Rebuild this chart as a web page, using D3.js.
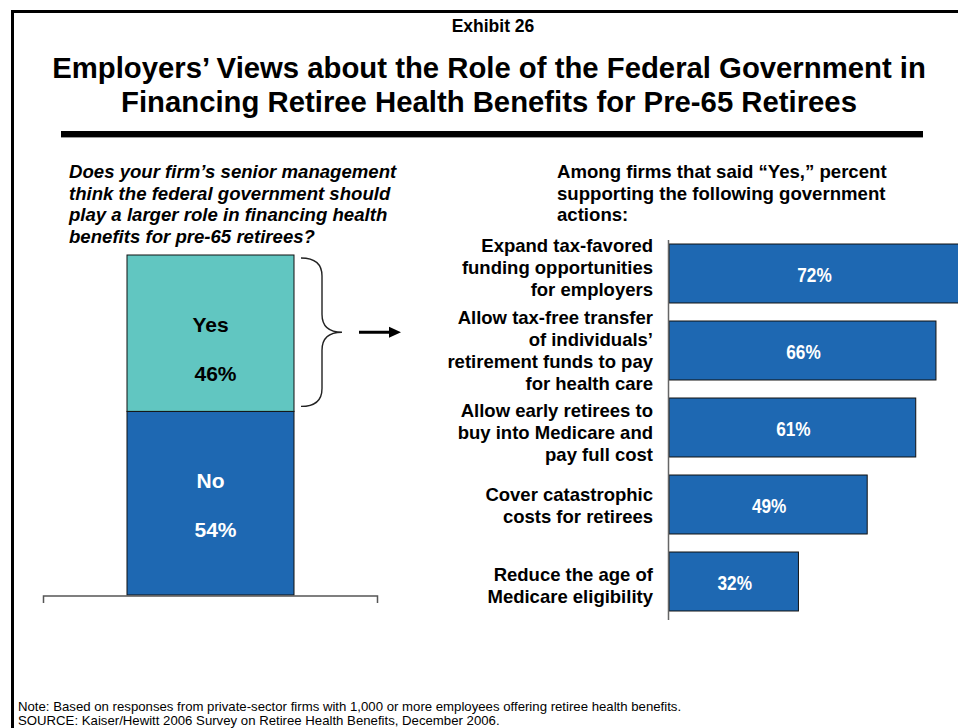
<!DOCTYPE html>
<html>
<head>
<meta charset="utf-8">
<script src="https://cdn.jsdelivr.net/npm/d3@7"></script>
<style>
  html, body { margin: 0; padding: 0; background: #fff; }
  svg { display: block; }
  text { font-family: "Liberation Sans", Arial, Helvetica, sans-serif; }
</style>
</head>
<body>
<svg id="chart" width="958" height="728"></svg>
<script>
// ---- Data ----
const stackCategories = ["No", "Yes"];
const stackValues = [54, 46];

const actionLabels = [
  ["Expand tax-favored", "funding opportunities", "for employers"],
  ["Allow tax-free transfer", "of individuals’", "retirement funds to pay", "for health care"],
  ["Allow early retirees to", "buy into Medicare and", "pay full cost"],
  ["Cover catastrophic", "costs for retirees"],
  ["Reduce the age of", "Medicare eligibility"]
];
const actionValues = [72, 66, 61, 49, 32];

const titleLines = [
  "Employers’ Views about the Role of the Federal Government in",
  "Financing Retiree Health Benefits for Pre-65 Retirees"
];
const questionLines = [
  "Does your firm’s senior management",
  "think the federal government should",
  "play a larger role in financing health",
  "benefits for pre-65 retirees?"
];
const headingLines = [
  "Among firms that said “Yes,” percent",
  "supporting the following government",
  "actions:"
];
const footerLines = [
  "Note: Based on responses from private-sector firms with 1,000 or more employees offering retiree health benefits.",
  "SOURCE: Kaiser/Hewitt 2006 Survey on Retiree Health Benefits, December 2006."
];

// ---- Styling ----
const BLUE = "#1E68B2";
const TEAL = "#61C6C1";
const svg = d3.select("#chart");

// Frame lines (top and left)
svg.append("rect").attr("x", 11).attr("y", 10).attr("width", 947).attr("height", 3).attr("fill", "#000");
svg.append("rect").attr("x", 11).attr("y", 10).attr("width", 3).attr("height", 718).attr("fill", "#000");

// Exhibit label
svg.append("text").attr("x", 493).attr("y", 32).attr("text-anchor", "middle")
  .attr("font-size", 17.5).attr("font-weight", "bold").text("Exhibit 26");

// Title
svg.append("g").selectAll("text").data(titleLines).join("text")
  .attr("x", 489).attr("y", (d, i) => 78 + i * 33.5)
  .attr("text-anchor", "middle").attr("font-size", 29.3).attr("font-weight", "bold")
  .text(d => d);

// Heavy rule under title
svg.append("rect").attr("x", 61).attr("y", 137).attr("width", 862).attr("height", 1).attr("fill", "#999");
svg.append("rect").attr("x", 61).attr("y", 131).attr("width", 862).attr("height", 6).attr("fill", "#000");

// Left question
svg.append("g").selectAll("text").data(questionLines).join("text")
  .attr("x", 69).attr("y", (d, i) => 178 + i * 21.7)
  .attr("font-size", 18.6).attr("font-weight", "bold").attr("font-style", "italic")
  .text(d => d);

// Right heading
svg.append("g").selectAll("text").data(headingLines).join("text")
  .attr("x", 557).attr("y", (d, i) => 178 + i * 21.7)
  .attr("font-size", 18.6).attr("font-weight", "bold")
  .text(d => d);

// ---- Stacked Yes / No column ----
const stackY = d3.scaleLinear().domain([0, 100]).range([595, 255]);
const colX0 = 127, colX1 = 294;
let acc = 0;
const stackRows = stackCategories.map((c, i) => {
  const row = { cat: c, value: stackValues[i], y0: acc, y1: acc + stackValues[i] };
  acc += stackValues[i];
  return row;
});
const colG = svg.append("g");
colG.selectAll("rect").data(stackRows).join("rect")
  .attr("x", colX0).attr("width", colX1 - colX0)
  .attr("y", d => stackY(d.y1)).attr("height", d => stackY(d.y0) - stackY(d.y1))
  .attr("fill", d => d.cat === "Yes" ? TEAL : BLUE)
  .attr("stroke", "#111").attr("stroke-width", 1);
colG.selectAll("text.cat").data(stackRows).join("text").attr("class", "cat")
  .attr("x", (colX0 + colX1) / 2).attr("y", d => stackY(d.y1) + 77)
  .attr("text-anchor", "middle").attr("font-size", 21).attr("font-weight", "bold")
  .attr("fill", d => d.cat === "Yes" ? "#000" : "#fff")
  .text(d => d.cat);
colG.selectAll("text.pct").data(stackRows).join("text").attr("class", "pct")
  .attr("x", (colX0 + colX1) / 2 + 5).attr("y", d => stackY(d.y1) + 126)
  .attr("text-anchor", "middle").attr("font-size", 21).attr("font-weight", "bold")
  .attr("fill", d => d.cat === "Yes" ? "#000" : "#fff")
  .text(d => d.value + "%");

// Base line with end ticks
svg.append("path")
  .attr("d", "M43.5,603 V596 H377.5 V603")
  .attr("fill", "none").attr("stroke", "#555").attr("stroke-width", 1.5);

// Brace around the "Yes" segment and pointer arrow
const yesRow = stackRows.find(d => d.cat === "Yes");
const bTop = stackY(yesRow.y1) + 3, bBot = stackY(yesRow.y0) - 5, bMid = (bTop + bBot) / 2;
svg.append("path")
  .attr("d", `M301,${bTop} Q322,${bTop} 322,${bTop + 18} L322,${bMid - 18} Q322,${bMid} 342,${bMid}
              Q322,${bMid} 322,${bMid + 18} L322,${bBot - 18} Q322,${bBot} 301,${bBot}`)
  .attr("fill", "none").attr("stroke", "#222").attr("stroke-width", 1.4);
svg.append("line").attr("x1", 359).attr("x2", 392).attr("y1", bMid).attr("y2", bMid)
  .attr("stroke", "#000").attr("stroke-width", 3);
svg.append("path")
  .attr("d", `M389,${bMid - 5.5} L401,${bMid} L389,${bMid + 5.5} Z`).attr("fill", "#000");

// ---- Horizontal bars ----
const x = d3.scaleLinear().domain([0, 100]).range([669, 669 + 404.5]);
const y = d3.scaleBand().domain(d3.range(actionValues.length)).range([235, 620])
  .paddingInner(0.234).paddingOuter(0.117);

const barG = svg.append("g");
barG.selectAll("rect").data(actionValues).join("rect")
  .attr("x", x(0)).attr("y", (d, i) => y(i))
  .attr("width", d => x(d) - x(0)).attr("height", y.bandwidth())
  .attr("fill", BLUE).attr("stroke", "#111").attr("stroke-width", 1);

// Value labels (condensed bold)
barG.selectAll("text").data(actionValues).join("text")
  .attr("transform", (d, i) => {
    const cx = (x(0) + Math.min(x(d), 958)) / 2 + 1;
    return `translate(${cx},${y(i) + y.bandwidth() / 2 + 8}) scale(0.82,1)`;
  })
  .attr("text-anchor", "middle").attr("font-size", 21).attr("font-weight", "bold")
  .attr("fill", "#fff").text(d => d + "%");

// Category labels, right-aligned against the axis
const labelNudge = [-6, 0, 5, 1, 4];
const labG = svg.append("g");
actionLabels.forEach((lines, i) => {
  const cy = y(i) + y.bandwidth() / 2 + labelNudge[i];
  const lh = 22.2;
  const first = cy - (lines.length - 1) * lh / 2 + 6.5;
  labG.append("text")
    .attr("text-anchor", "end").attr("font-size", 18.5).attr("font-weight", "bold")
    .selectAll("tspan").data(lines).join("tspan")
    .attr("x", 653).attr("y", (d, k) => first + k * lh).text(d => d);
});

// Vertical axis line
svg.append("line").attr("x1", 668.5).attr("x2", 668.5).attr("y1", 240).attr("y2", 620)
  .attr("stroke", "#666").attr("stroke-width", 1.5);

// Footer
svg.append("g").selectAll("text").data(footerLines).join("text")
  .attr("x", 18).attr("y", (d, i) => 711 + i * 14)
  .attr("font-size", 13.2).text(d => d);
</script>
</body>
</html>
